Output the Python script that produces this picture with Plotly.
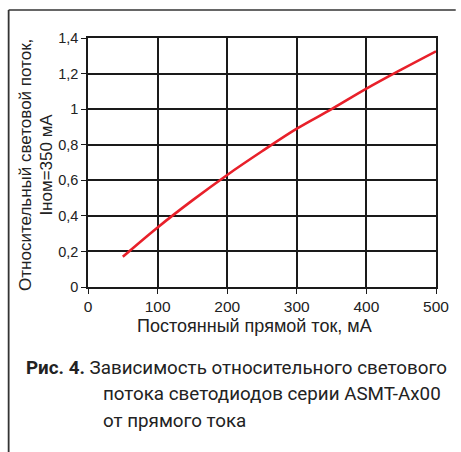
import plotly.graph_objects as go

current_ma = [50, 100, 150, 200, 250, 300, 350, 400, 450, 500]
rel_flux = [0.17, 0.335, 0.487, 0.63, 0.763, 0.89, 1.0, 1.115, 1.222, 1.325]

x_tickvals = [0, 100, 200, 300, 400, 500]
x_ticktext = ["0", "100", "200", "300", "400", "500"]
y_tickvals = [0, 0.2, 0.4, 0.6, 0.8, 1.0, 1.2, 1.4]
y_ticktext = ["0", "0,2", "0,4", "0,6", "0,8", "1", "1,2", "1,4"]

W, H = 461, 452
L, R, T, B = 88, 20, 38, 165

fig = go.Figure()
fig.add_trace(go.Scatter(x=current_ma, y=rel_flux, mode="lines",
                         line=dict(color="#e8202a", width=2.6, shape="spline"),
                         hoverinfo="skip", showlegend=False))

axis_common = dict(showline=True, linecolor="#1a1a1a", linewidth=1.5, mirror=True,
                   showgrid=True, gridcolor="#1a1a1a", gridwidth=1.5,
                   zeroline=False, ticks="outside", ticklen=5, tickcolor="#1a1a1a",
                   tickwidth=1.2)

fig.update_xaxes(range=[0, 500], tickvals=x_tickvals, ticktext=x_ticktext,
                 tickfont=dict(family="Liberation Sans", size=15.5, color="#222"), **axis_common)
fig.update_yaxes(range=[0, 1.4], tickvals=y_tickvals, ticktext=y_ticktext,
                 tickfont=dict(family="Liberation Sans", size=14.5, color="#222"), **axis_common)

def px_x(px):
    return (px - L) / (W - L - R)

def px_y(py):
    return (H - B - py) / (H - T - B)

title_font = dict(family="Liberation Sans", size=17, color="#222")
ann = []
ann.append(dict(text="Относительный световой поток,", x=px_x(24), y=px_y(165),
                xref="paper", yref="paper", textangle=-90, showarrow=False,
                font=title_font, xanchor="center", yanchor="middle"))
ann.append(dict(text="Iном=350 мА", x=px_x(45), y=px_y(165),
                xref="paper", yref="paper", textangle=-90, showarrow=False,
                font=title_font, xanchor="center", yanchor="middle"))
ann.append(dict(text="Постоянный прямой ток, мА", x=px_x(257), y=px_y(326),
                xref="paper", yref="paper", showarrow=False,
                font=dict(family="Liberation Sans", size=18, color="#222"),
                xanchor="center", yanchor="middle"))
cap_font = dict(family="Roboto", size=18.8, color="#222")
ann.append(dict(text="<b>Рис. 4.</b> Зависимость относительного светового", x=px_x(23), y=px_y(368),
                xref="paper", yref="paper", showarrow=False, font=cap_font,
                xanchor="left", yanchor="middle"))
ann.append(dict(text="потока светодиодов серии ASMT-Ax00", x=px_x(101), y=px_y(394),
                xref="paper", yref="paper", showarrow=False, font=cap_font,
                xanchor="left", yanchor="middle"))
ann.append(dict(text="от прямого тока", x=px_x(101), y=px_y(421),
                xref="paper", yref="paper", showarrow=False, font=cap_font,
                xanchor="left", yanchor="middle"))

shapes = [
    dict(type="line", xref="paper", yref="paper", x0=px_x(7.5), x1=px_x(461), y0=px_y(10), y1=px_y(10),
         line=dict(color="#333", width=1.5)),
    dict(type="line", xref="paper", yref="paper", x0=px_x(7.5), x1=px_x(7.5), y0=px_y(10), y1=px_y(452),
         line=dict(color="#333", width=1.8)),
]

fig.update_layout(width=W, height=H, margin=dict(l=L, r=R, t=T, b=B),
                  paper_bgcolor="white", plot_bgcolor="white",
                  annotations=ann, shapes=shapes, showlegend=False)

fig.write_html("out.html", config={"displayModeBar": False},
               post_script="document.body.style.margin='0';document.body.style.overflow='hidden';")
